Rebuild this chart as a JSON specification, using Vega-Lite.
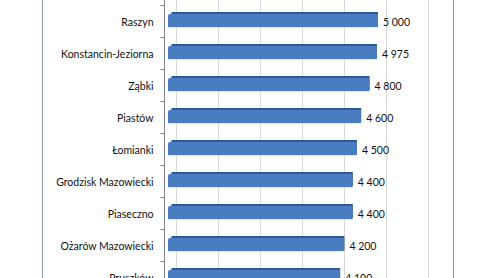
{
  "$schema": "https://vega.github.io/schema/vega-lite/v6.json",
  "autosize": {"type": "none"},
  "width": 411,
  "height": 352,
  "padding": {"left": 42, "top": -27, "right": 42, "bottom": 0},
  "background": "white",
  "config": {
    "font": "Lato",
    "view": {"stroke": "#8E9CB2", "strokeWidth": 1},
    "locale": {"number": {"decimal": ",", "thousands": " ", "grouping": [3], "currency": ["", " zł"]}}
  },
  "data": {
    "values": [
      {"gmina": "Raszyn", "wartosc": 5000},
      {"gmina": "Konstancin-Jeziorna", "wartosc": 4975},
      {"gmina": "Ząbki", "wartosc": 4800},
      {"gmina": "Piastów", "wartosc": 4600},
      {"gmina": "Łomianki", "wartosc": 4500},
      {"gmina": "Grodzisk Mazowiecki", "wartosc": 4400},
      {"gmina": "Piaseczno", "wartosc": 4400},
      {"gmina": "Ożarów Mazowiecki", "wartosc": 4200},
      {"gmina": "Pruszków", "wartosc": 4100}
    ]
  },
  "encoding": {
    "y": {
      "field": "gmina",
      "type": "nominal",
      "sort": null,
      "scale": {"paddingInner": 0, "paddingOuter": 1},
      "axis": {
        "title": null,
        "offset": -122,
        "domainColor": "#868686",
        "tickColor": "#868686",
        "tickSize": 4,
        "tickBand": "extent",
        "labelPadding": 7,
        "labelOffset": 1.5,
        "labelFont": "Lato",
        "labelFontSize": 10.5,
        "labelColor": "#111111",
        "grid": false
      }
    },
    "x": {
      "field": "wartosc",
      "type": "quantitative",
      "scale": {"domain": [-3000, 6786], "nice": false, "zero": false},
      "axis": {
        "title": null,
        "values": [0, 1000, 2000, 3000, 4000, 5000, 6000],
        "labels": false,
        "ticks": false,
        "domain": false,
        "grid": true,
        "gridColor": "#D9D9D9",
        "translate": 8.5
      }
    }
  },
  "layer": [
    {
      "mark": {"type": "bar", "size": 14, "color": "#2F5590", "xOffset": 3.5, "x2Offset": 3.5, "yOffset": -2, "cornerRadiusTopLeft": 2}
    },
    {
      "mark": {"type": "bar", "size": 14, "color": "#4A7DBF", "yOffset": -0.5, "cornerRadiusTopLeft": 2.5}
    },
    {
      "mark": {"type": "text", "align": "left", "baseline": "middle", "dx": 5, "dy": 1.5, "fontSize": 10.5, "font": "Lato", "color": "#111111"},
      "encoding": {"text": {"field": "wartosc", "type": "quantitative", "format": ",d"}}
    }
  ]
}
